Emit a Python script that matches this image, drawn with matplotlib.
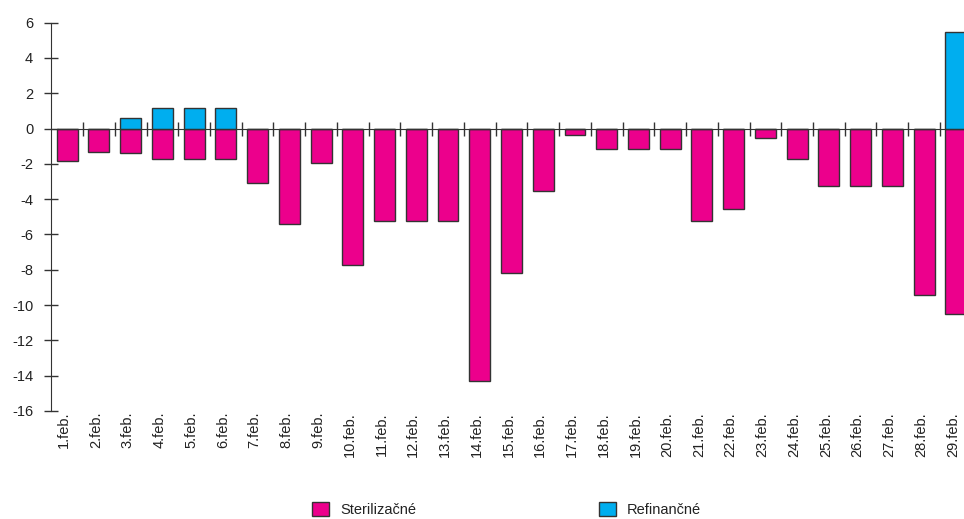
import numpy as np
import matplotlib
matplotlib.use('Agg')
import matplotlib.pyplot as plt
from matplotlib.patches import Patch
import matplotlib.transforms as mtransforms

plt.rcParams['font.family'] = ['Liberation Sans', 'DejaVu Sans']
plt.rcParams['axes.unicode_minus'] = False

# Data
days = [f'{i}.feb.' for i in range(1, 30)]
sterilizacne = [-1.82, -1.33, -1.39, -1.73, -1.73, -1.73, -3.07, -5.42, -1.93, -7.73,
                -5.23, -5.23, -5.23, -14.32, -8.2, -3.55, -0.34, -1.16, -1.16, -1.16,
                -5.23, -4.55, -0.51, -1.74, -3.24, -3.24, -3.24, -9.42, -10.51]
refinancne = [0, 0, 0.59, 1.19, 1.19, 1.19, 0, 0, 0, 0,
              0, 0, 0, 0, 0, 0, 0, 0, 0, 0,
              0, 0, 0, 0, 0, 0, 0, 0, 5.49]
yticks = np.arange(-16, 7, 2)

magenta = '#EC008C'
cyan = '#00AEEF'
line_col = '#333333'

fig = plt.figure(figsize=(9.64, 5.19), dpi=100)
# axes extends slightly past the right edge of the figure, like the original
ax = fig.add_axes([51.3 / 964, 1 - 411 / 519, 920.4 / 964, 388.3 / 519])

x = np.arange(len(days))
ax.bar(x, sterilizacne, width=0.66, color=magenta, edgecolor=line_col, linewidth=1, zorder=2)
ax.bar(x, refinancne, width=0.66, color=cyan, edgecolor=line_col, linewidth=1, zorder=2)

ax.set_xlim(-0.5, len(days) - 0.5)
ax.set_ylim(-16, 6)

for s in ['top', 'right']:
    ax.spines[s].set_visible(False)
ax.spines['bottom'].set_position(('data', 0))
ax.spines['bottom'].set_color(line_col)
ax.spines['bottom'].set_zorder(3)
ax.spines['left'].set_color(line_col)

ax.set_yticks(yticks)
ax.tick_params(axis='y', direction='inout', length=10, width=1, color=line_col,
               labelsize=10.5, labelcolor='#222222', pad=8)

# x ticks at category boundaries, crossing the zero line
ax.set_xticks(x[:-1] + 0.5)
ax.set_xticklabels([])
ax.tick_params(axis='x', direction='inout', length=10, width=1, color=line_col)

offset = mtransforms.ScaledTranslation(-3 / 100, -1 / 100, fig.dpi_scale_trans)
for xi, lab in zip(x, days):
    ax.text(xi, -16, lab, rotation=90, ha='center', va='top', fontsize=10.5,
            color='#222222', transform=ax.transData + offset)

handles = [Patch(facecolor=magenta, edgecolor=line_col, linewidth=1),
           Patch(facecolor=cyan, edgecolor=line_col, linewidth=1)]
fig.legend(handles, ['Sterilizačné', 'Refinančné'], loc='center left',
           bbox_to_anchor=(312 / 964, 1 - 509.5 / 519), ncol=2, frameon=False,
           fontsize=10.5, handlelength=1.15, handleheight=1.15, handletextpad=0.8,
           columnspacing=12.5, borderpad=0, borderaxespad=0, labelcolor='#222222')

fig.savefig('out.png', dpi=100)
